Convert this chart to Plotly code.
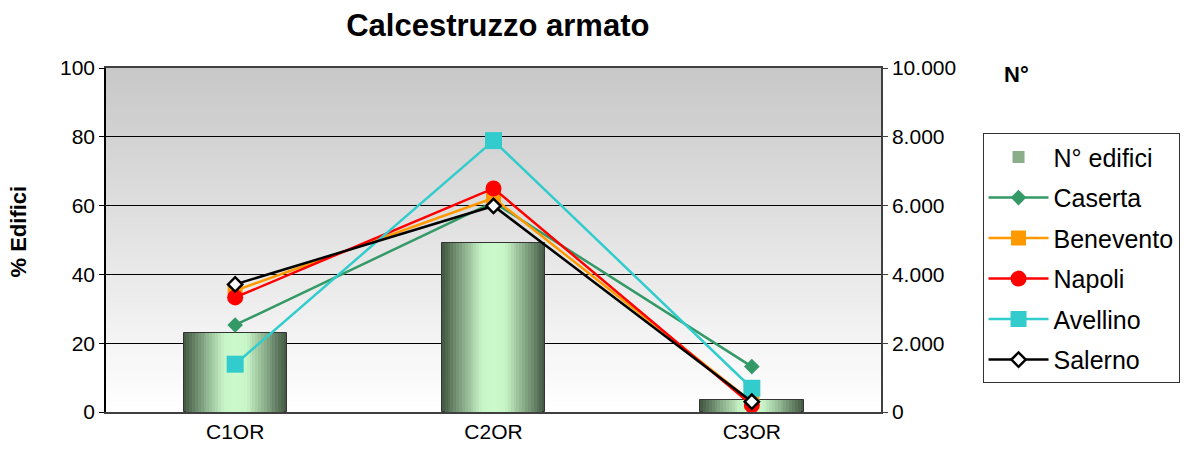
import plotly.graph_objects as go

categories = ["C1OR", "C2OR", "C3OR"]
n_edifici = [2300, 4900, 350]
caserta = [25.3, 61.0, 13.2]
benevento = [35.3, 62.2, 3.0]
napoli = [33.3, 65.0, 2.0]
avellino = [13.9, 78.9, 6.9]
salerno = [37.1, 59.9, 3.0]

right_ticks = [0, 2000, 4000, 6000, 8000, 10000]
left_ticks = [0, 20, 40, 60, 80, 100]

fig = go.Figure()

# --- bars with horizontal gradient (stacked overlay layers) ---
def lerp(a, b, t):
    return tuple(int(round(a[i] + (b[i] - a[i]) * t)) for i in range(3))

stops = [(0.0, (205, 250, 205)), (0.25, (200, 245, 200)), (0.6, (140, 175, 140)), (1.0, (70, 92, 70))]

def col(d):
    for (d0, c0), (d1, c1) in zip(stops[:-1], stops[1:]):
        if d0 <= d <= d1:
            return "rgb(%d,%d,%d)" % lerp(c0, c1, (d - d0) / (d1 - d0))
    return "rgb(%d,%d,%d)" % stops[-1][1]

n_layers = 18
bar_w = 0.4
legend_layer = 7
for k in range(n_layers):
    d = 1 - k / n_layers
    fig.add_trace(go.Bar(
        x=categories, y=n_edifici, width=bar_w * d,
        marker=dict(color=col(d),
                    line=dict(color="#333333", width=1 if k == 0 else 0)),
        name="N° edifici", legendgroup="bars",
        showlegend=(k == legend_layer), yaxis="y", hoverinfo="skip" if k else None,
    ))

series = [
    ("Caserta", caserta, "#339966", dict(symbol="diamond", size=12, color="#339966")),
    ("Benevento", benevento, "#FF9900", dict(symbol="square", size=15, color="#FF9900")),
    ("Napoli", napoli, "#FF0000", dict(symbol="circle", size=16, color="#FF0000")),
    ("Avellino", avellino, "#33CCCC", dict(symbol="square", size=17, color="#33CCCC")),
    ("Salerno", salerno, "#000000", dict(symbol="diamond", size=11, color="white",
                                          line=dict(color="black", width=2.5))),
]
for name, vals, c, mk in series:
    fig.add_trace(go.Scatter(
        x=categories, y=vals, name=name, mode="lines+markers",
        line=dict(color=c, width=2.5), marker=mk, yaxis="y2", legendgroup=name,
    ))

# gradient background bands (slightly overlapping to avoid seams)
n_bands = 60
shapes = []
for i in range(n_bands):
    t = i / (n_bands - 1)
    v = int(round(200 + (255 - 200) * t))
    y1 = 1 - i / n_bands
    y0 = max(0, 1 - (i + 1) / n_bands - 0.01)
    shapes.append(dict(type="rect", xref="paper", yref="paper",
                       x0=0, x1=1, y0=y0, y1=y1,
                       fillcolor="rgb(%d,%d,%d)" % (v, v, v), line=dict(width=0),
                       layer="below"))

fig.update_layout(
    width=1191, height=454,
    margin=dict(l=106, r=308, t=68, b=42),
    paper_bgcolor="white", plot_bgcolor="white",
    barmode="overlay", bargap=0,
    separators=",.",
    font=dict(family="Liberation Sans, Arial, sans-serif", size=21, color="black"),
    title=dict(text="<b>Calcestruzzo armato</b>", x=0.418, xanchor="center",
               y=0.945, yanchor="middle", font=dict(size=31)),
    shapes=shapes,
    xaxis=dict(showline=True, mirror=True, linecolor="#404040", linewidth=1.5,
               ticks="", tickfont=dict(size=21), showgrid=False),
    yaxis=dict(side="right", range=[0, 10000], tickvals=right_ticks,
               tickformat=",d", separatethousands=True,
               showgrid=True, gridcolor="black", gridwidth=1, zeroline=False,
               showline=True, linecolor="#404040", linewidth=1.5,
               ticks="outside", ticklen=5, tickcolor="#404040", tickfont=dict(size=21)),
    yaxis2=dict(overlaying="y", side="left", range=[0, 100], tickvals=left_ticks,
                showgrid=False, zeroline=False, showline=True, linecolor="black",
                linewidth=1.5, ticks="outside", ticklen=5, tickcolor="black",
                tickfont=dict(size=21)),
    legend=dict(x=1.131, y=0.81, xanchor="left", yanchor="top",
                bgcolor="white", bordercolor="#333333", borderwidth=1,
                font=dict(size=25), itemwidth=60, tracegroupgap=5,
                traceorder="grouped"),
    annotations=[
        dict(text="<b>N°</b>", xref="paper", yref="paper", x=1.175, y=0.98,
             xanchor="center", yanchor="middle", showarrow=False, font=dict(size=22)),
        dict(text="<b>% Edifici</b>", xref="paper", yref="paper", x=-0.113, y=0.526,
             xanchor="center", yanchor="middle", textangle=-90, showarrow=False,
             font=dict(size=22)),
    ],
)

fig.write_html("out.html", config={"displayModeBar": False},
               post_script="document.body.style.margin='0';")
